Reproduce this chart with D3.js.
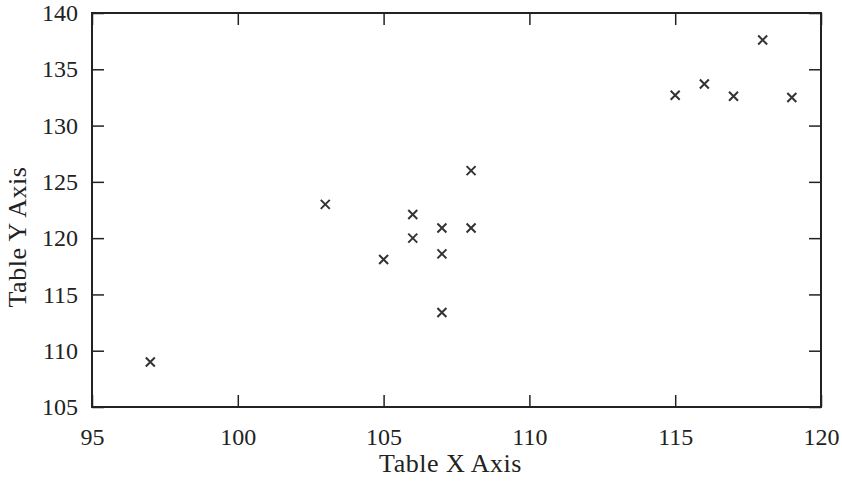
<!DOCTYPE html>
<html>
<head>
<meta charset="utf-8">
<script src="https://cdn.jsdelivr.net/npm/d3@7"></script>
<style>
  body { margin: 0; background: #fff; }
  text { font-family: "Liberation Serif", "DejaVu Serif", serif; fill: #222; }
</style>
</head>
<body>
<svg id="chart"></svg>
<script>
const xValues = [97, 103, 105, 106, 106, 107, 107, 107, 108, 108, 115, 116, 117, 118, 119]
const yValues = [109, 123, 118.1, 122.1, 120, 120.9, 118.6, 113.4, 120.9, 126, 132.7, 133.7, 132.6, 137.6, 132.5]
const xTicks = [95, 100, 105, 110, 115, 120]
const yTicks = [105, 110, 115, 120, 125, 130, 135, 140]

const W = 842, H = 485
const margin = { top: 13, right: 21, bottom: 78, left: 92 }
const width = W - margin.left - margin.right
const height = H - margin.top - margin.bottom

const svg = d3.select("#chart")
    .attr("width", W)
    .attr("height", H)
  .append("g")
    .attr("transform", "translate(" + margin.left + "," + margin.top + ")")

const xScale = d3.scaleLinear().domain([95, 120]).range([0, width])
const yScale = d3.scaleLinear().domain([105, 140]).range([height, 0])

// inner ticks on all four sides
const tickLen = 12
svg.append("g")
  .attr("transform", "translate(0," + height + ")")
  .call(d3.axisBottom(xScale).tickValues(xTicks).tickSizeInner(-tickLen).tickSizeOuter(0).tickPadding(21))
  .attr("font-size", 24)
svg.append("g")
  .call(d3.axisTop(xScale).tickValues(xTicks).tickSizeInner(-tickLen).tickSizeOuter(0).tickFormat(""))
svg.append("g")
  .call(d3.axisLeft(yScale).tickValues(yTicks).tickSizeInner(-tickLen).tickSizeOuter(0).tickPadding(14))
  .attr("font-size", 24)
svg.append("g")
  .attr("transform", "translate(" + width + ",0)")
  .call(d3.axisRight(yScale).tickValues(yTicks).tickSizeInner(-tickLen).tickSizeOuter(0).tickFormat(""))

svg.selectAll(".domain").remove()
svg.selectAll(".tick line").attr("stroke", "#222").attr("stroke-width", 1.5)
svg.selectAll(".tick text").style("font-size", "24px").attr("fill", "#222")

svg.append("rect")
  .attr("width", width)
  .attr("height", height)
  .attr("fill", "none")
  .attr("stroke", "#222")
  .attr("stroke-width", 2)

const data = xValues.map((x, i) => [x, yValues[i]])
const s = 4.5
svg.selectAll(".pt")
  .data(data)
  .enter()
  .append("path")
  .attr("class", "pt")
  .attr("d", d => {
    const cx = xScale(d[0]), cy = yScale(d[1])
    return `M${cx - s},${cy - s}L${cx + s},${cy + s}M${cx - s},${cy + s}L${cx + s},${cy - s}`
  })
  .attr("stroke", "#333")
  .attr("stroke-width", 2)

svg.append("text")
  .attr("x", width / 2 - 6)
  .attr("y", height + 65)
  .attr("text-anchor", "middle")
  .style("font-size", "26px")
  .style("letter-spacing", "0.5px")
  .text("Table X Axis")

svg.append("text")
  .attr("transform", "translate(-66," + (height / 2 + 27) + ") rotate(-90)")
  .attr("text-anchor", "middle")
  .style("font-size", "26px")
  .style("letter-spacing", "0.5px")
  .text("Table Y Axis")
</script>
</body>
</html>
